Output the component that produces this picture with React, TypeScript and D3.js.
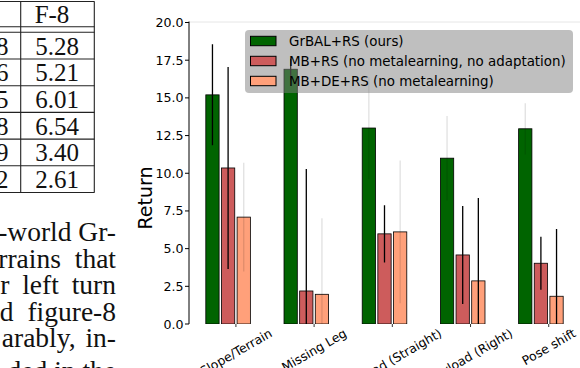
import React from "react";
import * as d3 from "d3";

// ---- chart data ----
const categories = ["Slope/Terrain", "Missing Leg", "Payload (Straight)", "Payload (Right)", "Pose shift"];
const seriesNames = ["GrBAL+RS (ours)", "MB+RS (no metalearning, no adaptation)", "MB+DE+RS (no metalearning)"];
const grbal = [15.2, 16.9, 13.0, 11.0, 12.95];
const grbalErr = [3.35, 0.7, 3.4, 2.8, 1.7];
const mbrs = [10.35, 2.19, 5.98, 4.58, 4.03];
const mbrsErr = [6.7, 8.1, 1.9, 3.25, 1.76];
const mbders = [7.09, 1.97, 6.11, 2.86, 1.84];
const mbdersErr = [3.6, 5.05, 4.74, 5.5, 4.47];
const grbalErrOpacity = [1, 1, 0.12, 0.12, 0.12];
const mbrsErrOpacity = [1, 1, 1, 1, 1];
const mbdersErrOpacity = [0.12, 0.12, 0.12, 1, 1];
const yTicks = [0, 2.5, 5, 7.5, 10, 12.5, 15, 17.5, 20];

// ---- surrounding page fragment (table + paragraph) ----
const tableHeader = "F-8";
const tableValues = ["5.28", "5.21", "6.01", "6.54", "3.40", "2.61"];
const prevColumnTail = ["8", "6", "5", "8", "9", "2"];
const paragraphLines = ["-world Gr-", "rrains that", "r left turn", "d figure-8", "arably, in-"];
const paragraphCutLine = "ded in the";

const W = 580, H = 368;
const colors = ["#006400", "#cd5c5c", "#ffa07a"];

let ctx: CanvasRenderingContext2D | null = null;
function measure(text: string, font: string) {
  if (!ctx) ctx = document.createElement("canvas").getContext("2d");
  if (!ctx) return text.length * 7;
  ctx.font = font;
  return ctx.measureText(text).width;
}

export default function App() {
  const left = 189, right = 580, top = 22.5, bottom = 324;
  const x = d3.scaleLinear().domain([-0.3, 4.7]).range([left, right]);
  const y = d3.scaleLinear().domain([0, 20]).range([bottom, top]);
  const barW = x(0.17) - x(0);
  const series = [
    { vals: grbal, errs: grbalErr, ops: grbalErrOpacity },
    { vals: mbrs, errs: mbrsErr, ops: mbrsErrOpacity },
    { vals: mbders, errs: mbdersErr, ops: mbdersErrOpacity },
  ];
  const sans = "DejaVu Sans, sans-serif";
  const serif = "Liberation Serif, Times New Roman, serif";
  const xFont = 12.4;
  const rowY = (i: number) => 32.3 + 26.7 * i;
  const justifySpacing = [0, 7, 6, 7, 3];

  return (
    <svg width={W} height={H} style={{ position: "absolute", left: 0, top: 0, background: "#fff" }}>
      <defs>
        <clipPath id="plot">
          <rect x={left} y={top} width={right - left} height={bottom - top} />
        </clipPath>
      </defs>
      {/* ---- page fragment: table ---- */}
      <g stroke="#222" strokeWidth={1.1}>
        <line x1={0} x2={94.5} y1={1.5} y2={1.5} />
        <line x1={0} x2={94.5} y1={26.7} y2={26.7} />
        {tableValues.map((_, i) => (
          <line key={i} x1={0} x2={94.5} y1={rowY(i)} y2={rowY(i)} />
        ))}
        <line x1={0} x2={94.5} y1={rowY(6)} y2={rowY(6)} />
        <line x1={20.7} x2={20.7} y1={1.5} y2={rowY(6)} />
        <line x1={94.3} x2={94.3} y1={1.5} y2={rowY(6)} />
      </g>
      <g fontFamily={serif} fontSize={25} fill="#111">
        <text x={52} y={14} textAnchor="middle" dominantBaseline="central">{tableHeader}</text>
        {tableValues.map((v, i) => (
          <text key={v + i} x={57} y={rowY(i) + 13.8} textAnchor="middle" dominantBaseline="central">{v}</text>
        ))}
        {prevColumnTail.map((v, i) => (
          <text key={"p" + i} x={8.5} y={rowY(i) + 13.8} textAnchor="end" dominantBaseline="central">{v}</text>
        ))}
      </g>
      <g fontFamily={serif} fontSize={27.5} fill="#111">
        {paragraphLines.map((t, i) => (
          <text key={t} x={116} y={241 + 26.6 * i} textAnchor="end" wordSpacing={justifySpacing[i]}>{t}</text>
        ))}
        <text x={116} y={380} textAnchor="end">{paragraphCutLine}</text>
      </g>

      {/* ---- chart ---- */}
      <line x1={left} x2={right} y1={top - 0.5} y2={top - 0.5} stroke="#e6e6e6" strokeWidth={1} />
      <g clipPath="url(#plot)">
        {series.map((s, k) =>
          s.vals.map((v, i) => {
            const cx = x(i + 0.2 * k);
            return (
              <rect key={k + "-" + i} x={cx - barW / 2} y={y(v)} width={barW} height={y(0) - y(v)}
                fill={colors[k]} stroke="#000" strokeWidth={0.8} />
            );
          })
        )}
        {series.map((s, k) =>
          s.vals.map((v, i) => {
            const cx = x(i + 0.2 * k);
            return (
              <line key={"e" + k + "-" + i} x1={cx} x2={cx} y1={y(v + s.errs[i])} y2={y(v - s.errs[i])}
                stroke="#000" strokeOpacity={s.ops[i]} strokeWidth={1.3} />
            );
          })
        )}
      </g>
      {/* y axis */}
      <line x1={left} x2={left} y1={top - 1} y2={bottom} stroke="#000" strokeWidth={1} />
      {yTicks.map((t) => (
        <g key={t}>
          <line x1={left - 4} x2={left} y1={y(t)} y2={y(t)} stroke="#000" strokeWidth={1} />
          <text x={left - 5.5} y={y(t)} textAnchor="end" dominantBaseline="central"
            fontFamily={sans} fontSize={12.6} fill="#000">{d3.format(".1f")(t)}</text>
        </g>
      ))}
      <text transform={`translate(152,198) rotate(-90)`} textAnchor="middle" fontFamily={sans}
        fontSize={19} fill="#000">Return</text>
      {/* x axis ticks & labels */}
      {categories.map((c, i) => {
        const tx = x(i + 0.3);
        const L = measure(c, `${xFont}px DejaVu Sans`);
        const bh = L * 0.5 + xFont * 1.1 * 0.866;
        const cy = bottom + 2 + bh / 2;
        return (
          <g key={c}>
            <line x1={tx} x2={tx} y1={bottom} y2={bottom + 3} stroke="#333" strokeWidth={1} />
            <text transform={`translate(${tx},${cy}) rotate(-30)`} textAnchor="middle" dominantBaseline="central"
              fontFamily={sans} fontSize={xFont} fill="#000">{c}</text>
          </g>
        );
      })}
      {/* legend */}
      <rect x={245} y={30} width={328} height={63} rx={4} fill="rgb(128,128,128)" fillOpacity={0.5} />
      {seriesNames.map((n, k) => {
        const cy = 41 + 20 * k;
        return (
          <g key={n}>
            <rect x={250.5} y={cy - 4.7} width={25.5} height={9.4} fill={colors[k]} stroke="#000" strokeWidth={1} />
            <text x={289} y={cy} dominantBaseline="central" fontFamily={sans} fontSize={13.4} fill="#000">{n}</text>
          </g>
        );
      })}
    </svg>
  );
}
